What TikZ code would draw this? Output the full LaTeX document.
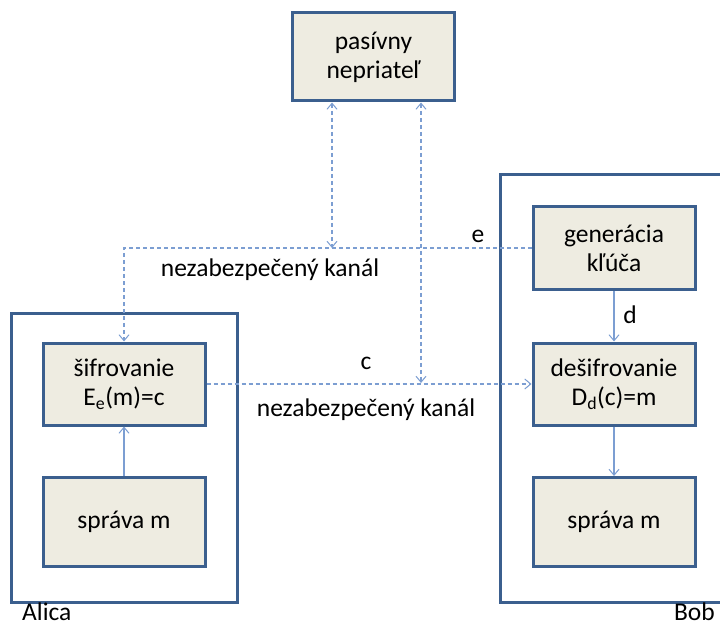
\documentclass[tikz,border=0pt]{standalone}
\usepackage{fontspec}
\setmainfont{Carlito}
\usetikzlibrary{arrows.meta}
\definecolor{boxfill}{HTML}{EEECE1}
\definecolor{boxline}{HTML}{3B5F8E}
\definecolor{link}{HTML}{7C9ED2}
\tikzset{
  >={Straight Barb[length=6pt,width=10pt,line width=1pt]},
  stage/.style={draw=boxline, line width=3pt, fill=boxfill, minimum width=162pt, align=center, font=\fontsize{25.5}{29}\selectfont, inner sep=0pt},
  party/.style={draw=boxline, line width=3pt},
  chan/.style={draw=link, line width=1.2pt, dash pattern=on 4pt off 3pt},
  flow/.style={draw=link, line width=1.2pt},
  lbl/.style={font=\fontsize{25.5}{29}\selectfont, inner sep=0pt}
}
\begin{document}
\begin{tikzpicture}[x=1pt,y=-1pt]
\useasboundingbox (0,0) rectangle (720,628);
\clip (0,0) rectangle (720,628);
% party frames
\draw[party] (11,313) rectangle (237,602);
\draw[party] (500,175) rectangle (740,602);
% nodes
\node[stage, minimum height=88pt] (adv) at (373.5,57) {pasívny\\nepriateľ};
\node[stage, minimum height=82pt] (sif) at (124,384) {šifrovanie\\E\textsubscript{e}(m)=c};
\node[stage, minimum height=89pt] (amsg) at (124,522) {správa m};
\node[stage, minimum height=83pt] (gen) at (614,248) {generácia\\kľúča};
\node[stage, minimum height=82pt] (des) at (614,384) {dešifrovanie\\D\textsubscript{d}(c)=m};
\node[stage, minimum height=89pt] (bmsg) at (614,522) {správa m};
% channel points
\coordinate (eA) at (332,248);
\coordinate (cA) at (421,383);
% connectors
\draw[chan, ->] (gen.west) -| (sif.north);
\draw[chan, ->] (sif.east) -- (des.west);
\draw[chan, <->] (adv.south -| eA) -- (eA);
\draw[chan, <->] (adv.south -| cA) -- (cA);
\draw[flow, ->] (amsg.north) -- (sif.south);
\draw[flow, ->] (gen.south) -- (des.north);
\draw[flow, ->] (des.south) -- (bmsg.north);
% labels
\node[lbl] (le) at (478,236) {e};
\node[lbl] (lk1) at (270,270) {nezabezpečený kanál};
\node[lbl] (lc) at (366,363) {c};
\node[lbl] (lk2) at (366,410) {nezabezpečený kanál};
\node[lbl] (ld) at (630,315) {d};
\node[lbl, anchor=base west] (alice) at (22,620) {Alica};
\node[lbl, anchor=base east] (bob) at (715,620) {Bob};
\end{tikzpicture}
\end{document}
